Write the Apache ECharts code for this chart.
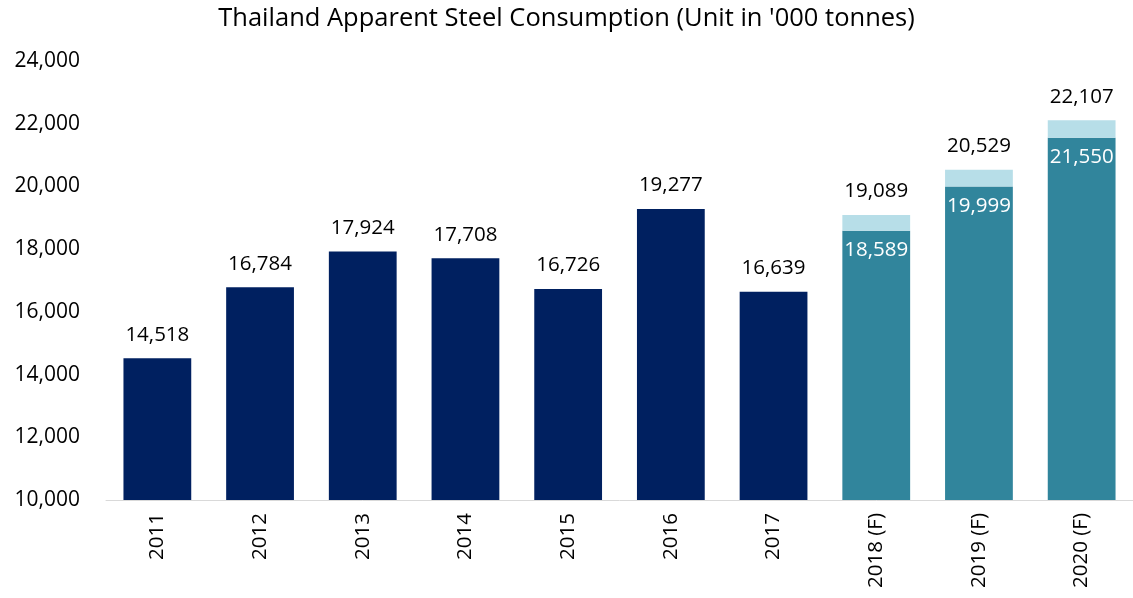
<!DOCTYPE html>
<html>
<head>
<meta charset="utf-8">
<script src="https://cdn.jsdelivr.net/npm/echarts@6/dist/echarts.min.js"></script>
<style>
  html, body { margin: 0; padding: 0; background: #fff; }
  #chart { width: 1133px; height: 598px; }
</style>
</head>
<body>
<div id="chart"></div>
<script>
// categories and values
var years = ['2011', '2012', '2013', '2014', '2015', '2016', '2017', '2018 (F)', '2019 (F)', '2020 (F)'];
var actual = [14518, 16784, 17924, 17708, 16726, 19277, 16639, '-', '-', '-'];
var forecastBase = ['-', '-', '-', '-', '-', '-', '-', 18589, 19999, 21550];
var forecastTotal = ['-', '-', '-', '-', '-', '-', '-', 19089, 20529, 22107];

var forecastExtra = forecastTotal.map(function (v, i) {
    return v === '-' ? '-' : v - forecastBase[i];
});

var font = 'Open Sans';
function fmt(v) { return Number(v).toLocaleString('en-US'); }

var chart = echarts.init(document.getElementById('chart'));
chart.setOption({
    animation: false,
    textStyle: { fontFamily: font },
    title: {
        text: "Thailand Apparent Steel Consumption (Unit in '000 tonnes)",
        left: 'center',
        top: 1,
        textStyle: { fontFamily: font, fontWeight: 'normal', fontSize: 25.5, color: '#000' }
    },
    grid: { left: 106, right: -8, top: 61, bottom: 98 },
    xAxis: {
        type: 'category',
        data: years,
        axisLine: { lineStyle: { color: '#d9d9d9', width: 1 } },
        axisTick: { show: false },
        axisLabel: { rotate: 90, fontSize: 20.5, color: '#000', margin: 13 }
    },
    yAxis: {
        type: 'value',
        min: 10000,
        max: 24000,
        interval: 2000,
        splitLine: { show: false },
        axisLine: { show: false },
        axisTick: { show: false },
        axisLabel: { fontSize: 21, color: '#000', margin: 26, formatter: fmt }
    },
    series: [
        {
            name: 'Actual',
            type: 'bar',
            stack: 'all',
            barWidth: '66%',
            data: actual,
            itemStyle: { color: '#002060' },
            label: {
                show: true, position: 'top', distance: 13,
                fontSize: 20.5, color: '#000',
                formatter: function (p) { return fmt(p.value); }
            }
        },
        {
            name: 'Forecast base',
            type: 'bar',
            stack: 'all',
            data: forecastBase,
            itemStyle: { color: '#31859c' },
            label: {
                show: true, position: 'insideTop', distance: 9,
                fontSize: 20.5, color: '#fff',
                formatter: function (p) { return fmt(p.value); }
            }
        },
        {
            name: 'Forecast range',
            type: 'bar',
            stack: 'all',
            data: forecastExtra,
            itemStyle: { color: '#b7dee8' },
            label: {
                show: true, position: 'top', distance: 13,
                fontSize: 20.5, color: '#000',
                formatter: function (p) { return fmt(forecastTotal[p.dataIndex]); }
            }
        }
    ]
});
</script>
</body>
</html>
